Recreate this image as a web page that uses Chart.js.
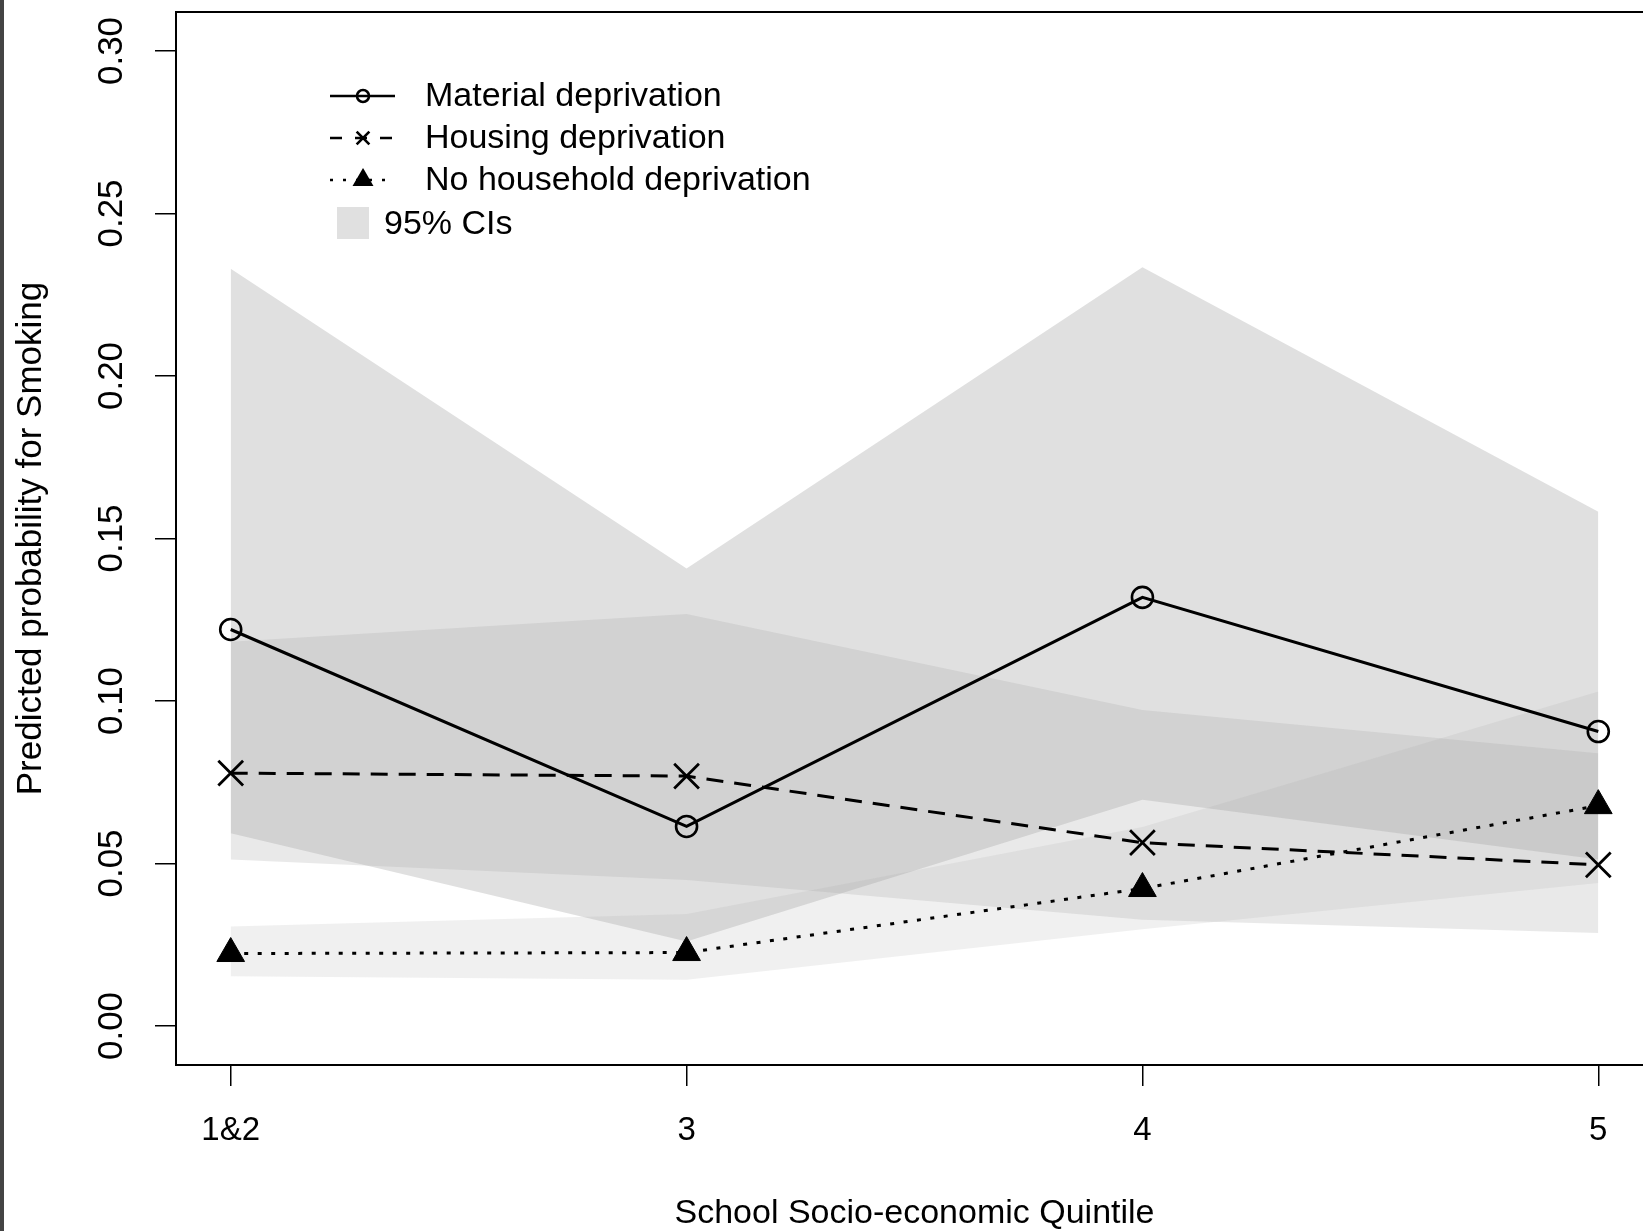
<!DOCTYPE html>
<html>
<head>
<meta charset="utf-8">
<script src="https://cdn.jsdelivr.net/npm/chart.js@4.4.0/dist/chart.umd.min.js"></script>
<style>
  html, body { margin: 0; padding: 0; background: #fff; overflow: hidden; }
  #wrap { position: relative; width: 1643px; height: 1231px; overflow: hidden; }
  #edge { position: absolute; left: 0; top: 0; width: 4px; height: 1231px; background: #444; }
  canvas { position: absolute; left: 0; top: 0; }
</style>
</head>
<body>
<div id="wrap">
  <canvas id="chart" width="1680" height="1231"></canvas>
  <div id="edge"></div>
</div>
<script>
// categorias e valores
const quintiles = ['1&2', '3', '4', '5'];
const yTicks = [0, 0.05, 0.10, 0.15, 0.20, 0.25, 0.30];
const legendLabels = ['Material deprivation', 'Housing deprivation', 'No household deprivation', '95% CIs'];

const materialProb = [0.1220, 0.0614, 0.1319, 0.0906];
const materialUpper = [0.2330, 0.1408, 0.2335, 0.1582];
const materialLower = [0.0593, 0.0260, 0.0696, 0.0512];

const housingProb = [0.0778, 0.0769, 0.0564, 0.0496];
const housingUpper = [0.1182, 0.1268, 0.0972, 0.0839];
const housingLower = [0.0512, 0.0449, 0.0327, 0.0286];

const noneProb = [0.0223, 0.0226, 0.0423, 0.0678];
const noneUpper = [0.0306, 0.0345, 0.0612, 0.1029];
const noneLower = [0.0153, 0.0142, 0.0298, 0.0440];

const FONT = '"Liberation Sans", Arial, sans-serif';
Chart.defaults.font.family = FONT;
Chart.defaults.color = '#000';

function toXY(values) {
    return values.map((v, i) => ({ x: i + 1, y: v }));
}

// faixa de confianca: linha superior preenchida ate a inferior
function band(upper, lower, color) {
    return [
        { data: toXY(upper), fill: '+1', backgroundColor: color, borderColor: 'transparent', borderWidth: 0, pointRadius: 0, order: 10 },
        { data: toXY(lower), fill: false, borderColor: 'transparent', borderWidth: 0, pointRadius: 0, order: 10 }
    ];
}

const series = [
    { label: legendLabels[0], data: toXY(materialProb), borderDash: [], pointStyle: 'circle', pointRadius: 10.5, pointBorderWidth: 2.6, pointBackgroundColor: 'transparent' },
    { label: legendLabels[1], data: toXY(housingProb), borderDash: [17, 11], pointStyle: 'crossRot', pointRadius: 17.5, pointBorderWidth: 2.8, pointBackgroundColor: 'transparent' },
    { label: legendLabels[2], data: toXY(noneProb), borderDash: [4, 9.5], pointStyle: 'triangle', pointRadius: 16, pointBorderWidth: 1, pointBackgroundColor: '#000' }
].map(s => Object.assign({
    fill: false,
    borderColor: '#000',
    borderWidth: 3,
    pointBorderColor: '#000',
    tension: 0,
    order: 1
}, s));

const datasets = [
    ...band(materialUpper, materialLower, 'rgba(170, 170, 170, 0.36)'),
    ...band(housingUpper, housingLower, 'rgba(170, 170, 170, 0.26)'),
    ...band(noneUpper, noneLower, 'rgba(170, 170, 170, 0.18)'),
    ...series
];

// caixa do grafico e legenda no estilo do R
const boxAndLegend = {
    id: 'boxAndLegend',
    afterDraw(chart) {
        const ctx = chart.ctx;
        const area = chart.chartArea;
        ctx.save();
        ctx.strokeStyle = '#000';
        ctx.lineWidth = 2;
        ctx.strokeRect(area.left, area.top, area.right - area.left, area.bottom - area.top);

        const rows = [96, 138, 180];
        const styles = [
            { dash: [], point: 'circle', radius: 6, fill: 'transparent', bw: 2.2 },
            { dash: [12, 13], point: 'crossRot', radius: 9, fill: 'transparent', bw: 2.6 },
            { dash: [3, 10], point: 'triangle', radius: 9.5, fill: '#000', bw: 1 }
        ];
        ctx.font = '34px ' + FONT;
        ctx.textBaseline = 'middle';
        ctx.textAlign = 'left';
        rows.forEach((y, i) => {
            const st = styles[i];
            ctx.setLineDash(st.dash);
            ctx.lineWidth = 2.6;
            ctx.beginPath();
            ctx.moveTo(330, y);
            ctx.lineTo(395, y);
            ctx.stroke();
            ctx.setLineDash([]);
            ctx.fillStyle = st.fill;
            ctx.strokeStyle = '#000';
            Chart.helpers.drawPoint(ctx, { pointStyle: st.point, radius: st.radius, rotation: 0, borderWidth: st.bw }, 363, y);
            ctx.fillStyle = '#000';
            ctx.fillText(legendLabels[i], 425, y + 1);
        });
        ctx.fillStyle = '#e0e0e0';
        ctx.fillRect(337, 207, 32, 32);
        ctx.fillStyle = '#000';
        ctx.fillText(legendLabels[3], 384, 225);
        ctx.restore();
    }
};

new Chart(document.getElementById('chart').getContext('2d'), {
    type: 'line',
    data: { datasets: datasets },
    options: {
        responsive: false,
        animation: false,
        devicePixelRatio: 1,
        layout: { autoPadding: false, padding: { left: 0, right: 27, top: 12, bottom: 0 } },
        plugins: { legend: { display: false }, tooltip: { enabled: false } },
        scales: {
            x: {
                type: 'linear',
                min: 0.88,
                max: 4.12,
                afterBuildTicks: axis => { axis.ticks = quintiles.map((q, i) => ({ value: i + 1 })); },
                afterFit: scale => { scale.height = 166; scale.paddingLeft = 0; scale.paddingRight = 0; },
                ticks: {
                    callback: v => quintiles[Math.round(v) - 1],
                    font: { size: 33, lineHeight: 1 },
                    padding: 28,
                    maxRotation: 0,
                    autoSkip: false
                },
                grid: { drawOnChartArea: false, drawTicks: true, tickLength: 21, color: '#000', lineWidth: 1.5 },
                border: { display: false },
                title: { display: true, text: 'School Socio-economic Quintile', font: { size: 34, lineHeight: 1 }, padding: { top: 0, bottom: 0 } }
            },
            y: {
                min: -0.012,
                max: 0.312,
                afterBuildTicks: axis => { axis.ticks = yTicks.map(v => ({ value: v })); },
                afterFit: scale => { scale.width = 176; scale.paddingTop = 0; scale.paddingBottom = 0; },
                ticks: {
                    callback: v => v.toFixed(2),
                    font: { size: 35, lineHeight: 1 },
                    minRotation: 90,
                    maxRotation: 90,
                    crossAlign: 'center',
                    padding: 9,
                    autoSkip: false
                },
                grid: { drawOnChartArea: false, drawTicks: true, tickLength: 21, color: '#000', lineWidth: 1.5 },
                border: { display: false },
                title: { display: true, text: 'Predicted probability for Smoking', font: { size: 35, lineHeight: 1 }, padding: { top: 14, bottom: 0 } }
            }
        }
    },
    plugins: [boxAndLegend]
});
</script>
</body>
</html>
